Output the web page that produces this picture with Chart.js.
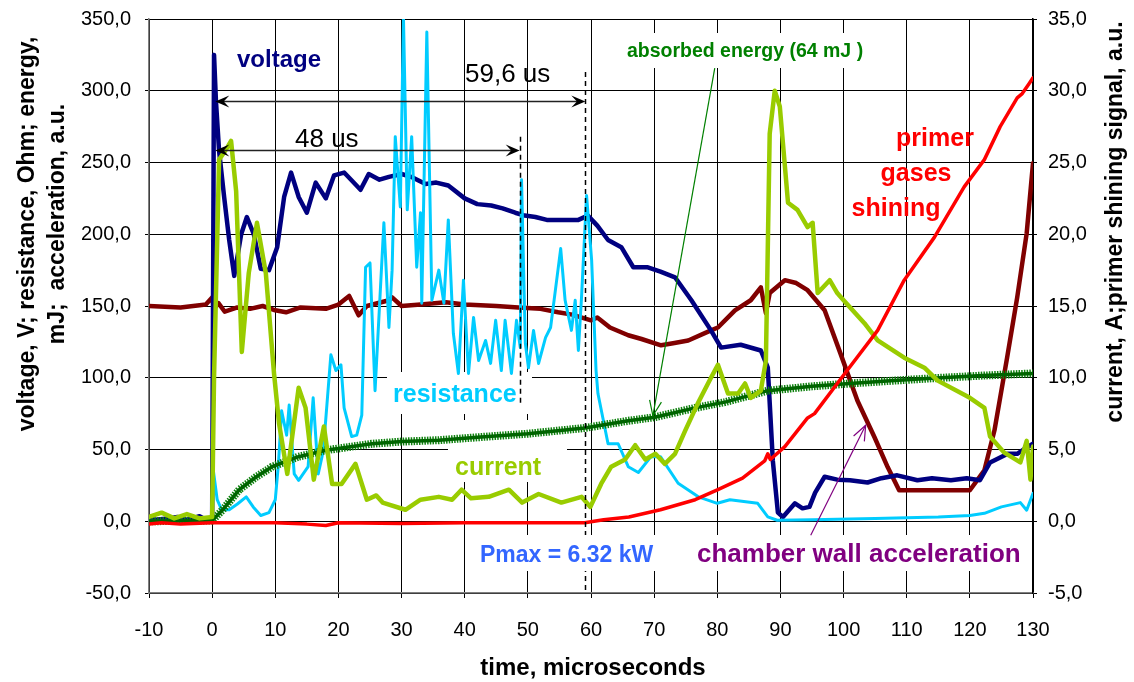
<!DOCTYPE html>
<html>
<head>
<meta charset="utf-8">
<script src="https://cdn.jsdelivr.net/npm/chart.js@4.4.1/dist/chart.umd.min.js"></script>
<style>
  html, body { margin: 0; padding: 0; background: #fff; }
  #wrap { width: 1134px; height: 682px; position: relative; }
</style>
</head>
<body>
<div id="wrap"><canvas id="c"></canvas></div>
<script>
// Axis ranges
const timeTicks = { min: -10, max: 130, step: 10 };
const leftTicks = { min: -50, max: 350, step: 50 };
const rightTicks = { min: -5, max: 35, step: 5 };

// [time µs, value] pairs
const voltage = [[-10,2],[-9,1],[-7,2],[-5.5,3],[-4,1],[-2,3.5],[-1,1],[0,1],[0.3,325],[0.6,293],[1.1,258],[1.9,226],[2.7,196],[3.5,171],[4.6,200],[5.5,212],[6.6,200],[7.7,176],[9,175],[10.3,191],[11.4,226],[12.5,243],[13.7,226],[15,215],[16.4,236],[18,225],[19.3,241],[20.9,243],[22,238],[23.5,231],[24.8,242],[26.5,238],[28,240],[30,242],[31.5,240],[33.8,235],[35.5,236],[37.4,234],[40,225],[42,221],[44.2,220],[46,218],[48,215],[49.5,213],[51.2,212],[53,210],[56,210],[58,210],[59.5,213],[61,206],[62.7,196],[64.8,191],[66.7,177],[69,177],[71,174],[73.3,170],[75.9,154],[79,133],[80.6,121],[83.7,123],[86.9,119],[88,107],[88.8,42],[89.6,6],[90.4,3],[92.3,12.5],[93.5,9],[94.6,10],[95.5,20],[97,31],[99,29],[101,28.6],[103.8,27],[106,30],[108.5,32],[111.7,28.6],[114,30],[117,28.6],[119.5,30],[121.6,28.6],[123.2,41],[126,47],[127.5,47],[128.5,50],[130,54]];

const resistance = [[-10,0],[0,0],[0.2,35],[0.8,15],[1.5,8],[2.7,8],[4,12],[5.4,17],[6.5,10],[7.7,4],[9,6],[10,15],[10.5,40],[11,77],[11.8,60],[12.2,81],[13,33],[13.7,28.5],[15.2,38],[16,86],[16.8,33],[17.6,49],[18.8,116],[19.6,105],[20.4,109],[20.9,79],[22.1,59],[22.9,60],[23.7,74],[24.3,177],[25,180],[25.8,91],[27.2,208],[28,135],[28.5,175],[29,268],[29.8,219],[30.3,351],[30.9,217],[31.6,268],[32.4,177],[33,215],[33.2,152],[34,341],[34.8,154],[35.9,175],[36.7,152],[37.4,210],[38.2,131],[39,103],[39.8,168],[40.6,103],[41.4,142],[42.2,112],[43.3,126],[44.1,110],[44.9,140],[45.8,105],[46.4,140],[47.4,103],[48.2,140],[48.8,121],[49,238],[49.6,124],[50.1,107],[50.9,133],[51.7,110],[52.8,128],[53.6,135],[54.3,159],[55.2,190],[55.9,154],[56.9,133],[57.5,154],[58,119],[58.5,156],[59.3,227],[60.1,182],[60.8,105],[61.1,89],[62.7,54],[64.3,54],[65.9,38],[67.5,34],[69.5,45],[71,45],[73.8,26.5],[77,17],[80,12.5],[82,15],[86.4,12.5],[88,3],[89.5,0.7],[95,1],[105,2],[115,3],[120,4],[122.3,5.5],[125,10],[128,13],[129,7.7],[130,19.5]];

const current = [[-10,0.3],[-8,0.6],[-6,0.2],[-4,0.5],[-2,0.2],[0,0.3],[0.3,10],[1.1,25.2],[2.2,25.9],[3,26.5],[3.8,23],[4.7,11.8],[5.8,17.3],[7.1,20.8],[8.5,17.3],[9.8,10.3],[10.6,6.8],[11.9,3.3],[13.7,9.3],[14.8,7.9],[16.1,2.9],[17.7,6.6],[19,2.6],[20.5,2.6],[22.7,4.0],[24.5,1.5],[26,1.8],[27,1.3],[30.6,0.8],[33,1.5],[35.9,1.7],[38,1.5],[39.5,2.2],[41,1.6],[43.8,1.7],[47,2.2],[49.1,1.3],[51.7,1.9],[55.3,1.3],[58.5,1.7],[59.9,1.0],[61.6,2.6],[63.2,3.8],[65.4,4.3],[67,5.3],[68.6,4.3],[70.2,4.7],[71.7,4.0],[73.3,4.7],[74.9,6.3],[76.9,8.2],[79,10.0],[80.1,10.9],[81.7,8.9],[83.3,8.9],[84.4,9.6],[85.3,8.6],[86.9,9.1],[87.7,11.2],[88.3,27],[89.1,30],[89.9,28.9],[91.2,22.2],[92.7,21.7],[94.3,20.5],[95.1,20.8],[95.9,15.9],[97.8,16.8],[99,15.9],[100,15.4],[103.3,13.8],[105.4,12.6],[109.6,11.4],[112.8,10.7],[114.9,9.8],[120,8.6],[122.3,7.9],[123.2,5.9],[125.4,4.8],[128,4.1],[129,5.6],[129.6,2.9],[130,5.2]];

const energy = [[-10,0],[0,0.5],[1.6,7.6],[4.3,22],[7,31],[9.5,38],[13.7,45],[18,49.5],[25.3,54],[30,55.5],[35.9,56.5],[42,58.5],[50,61],[59,65],[65.9,70],[70.1,72.5],[76.5,79],[81.2,83],[88,91],[95,94],[101,96],[108,98],[114,99.6],[122,101.5],[130,103]];

const primerShining = [[-10,-0.2],[-8,-0.1],[-5,-0.2],[0,-0.1],[5,-0.1],[10,-0.1],[15,-0.2],[18,-0.3],[20,-0.1],[30,-0.15],[40,-0.1],[50,-0.1],[59,-0.1],[62,0.1],[66,0.3],[71,0.8],[76.5,1.5],[80.1,2.2],[84,3.0],[87.5,4.2],[88,4.7],[88.4,4.3],[90.7,5.2],[94.3,7.2],[95.4,7.5],[100.2,10.3],[105.4,13.3],[109.6,16.8],[114.4,19.8],[119.1,23.3],[122.3,25.2],[124.8,27.5],[127.5,29.5],[128.3,29.8],[129.4,30.5],[130,30.9]];

const wallAcceleration = [[-10,150],[-5,149],[-1,151],[0,156],[0.3,148],[1,152],[2,146],[4,149],[6,148],[8,150],[10,147],[11.7,145.6],[14,149],[18,148],[20,151],[21.7,157],[23.2,143.5],[24.5,150],[28,154],[28.5,156],[30,150],[33,151],[37,152.6],[40,151],[45,150],[48.5,149],[52,148],[54.8,145.6],[57,144],[60,140],[61,142],[63,135],[65.9,129.6],[68,127],[71.1,122.6],[73,124],[75.4,126],[79,133],[80.1,135],[82.8,147],[85.3,154],[86.9,163],[87.7,145],[88.3,159],[90.7,168],[92.5,166],[94.3,161],[97,147],[99.5,117],[102.2,84],[104.9,58.5],[107,37.6],[108.8,21.6],[112,21.6],[116,21.6],[120,21.6],[122.3,35.5],[123.9,63.4],[125.9,114],[127.5,156],[129,200.7],[130,249.5]];

// Annotation values (time µs / left-axis units)
const pulseStart = 0.5;
const span48End = 48.7;
const span596End = 59.1;
const span48Level = 259;
const span596Level = 293;

const FONT = "'Liberation Sans', Arial, Helvetica, sans-serif";
const pts = arr => arr.map(p => ({ x: p[0], y: p[1] }));
const comma = v => v.toFixed(1).replace('.', ',');

function arrowHead(ctx, x, y, ang, len, half, filled) {
  const bx = x - len * Math.cos(ang), by = y - len * Math.sin(ang);
  const nx = -Math.sin(ang), ny = Math.cos(ang);
  ctx.beginPath();
  if (filled) {
    const mx = x - len * 0.6 * Math.cos(ang), my = y - len * 0.6 * Math.sin(ang);
    ctx.moveTo(x, y);
    ctx.lineTo(bx + nx * half, by + ny * half);
    ctx.lineTo(mx, my);
    ctx.lineTo(bx - nx * half, by - ny * half);
    ctx.closePath();
    ctx.fill();
  } else {
    ctx.moveTo(bx + nx * half, by + ny * half);
    ctx.lineTo(x, y);
    ctx.lineTo(bx - nx * half, by - ny * half);
    ctx.stroke();
  }
}

const overlay = {
  id: 'overlay',
  beforeDatasetsDraw(chart) {
    const ctx = chart.ctx;
    ctx.save();
    ctx.fillStyle = '#fff';
    // label backgrounds
    ctx.fillRect(618, 33, 254, 35);
    ctx.fillRect(387, 372, 145, 42);
    ctx.fillRect(448, 420, 119, 62);
    ctx.fillRect(690, 535, 338, 36);
    ctx.restore();
  },
  afterDatasetsDraw(chart) {
    const ctx = chart.ctx;
    const sx = chart.scales.x, sy = chart.scales.y;
    const X = v => sx.getPixelForValue(v), Y = v => sy.getPixelForValue(v);
    ctx.save();

    // dashed markers at pulse ends
    ctx.strokeStyle = '#000';
    ctx.lineWidth = 1.5;
    ctx.setLineDash([5, 4]);
    ctx.beginPath();
    ctx.moveTo(Math.round(X(span48End)) + 0.5, Y(268));
    ctx.lineTo(Math.round(X(span48End)) + 0.5, Y(80));
    ctx.moveTo(Math.round(X(span596End)) + 0.5, Y(313));
    ctx.lineTo(Math.round(X(span596End)) + 0.5, Y(-50));
    ctx.stroke();
    ctx.setLineDash([]);

    // power label box sits over the dashed marker
    ctx.fillStyle = '#fff';
    ctx.fillRect(474, 535, 188, 36);

    // duration arrows
    ctx.strokeStyle = '#222';
    ctx.fillStyle = '#000';
    ctx.lineWidth = 1.6;
    [[span596End, span596Level], [span48End, span48Level]].forEach(([end, lvl]) => {
      const y = Math.round(Y(lvl)) + 0.5;
      const x0 = X(pulseStart), x1 = X(end);
      ctx.beginPath();
      ctx.moveTo(x0 + 4, y); ctx.lineTo(x1 - 4, y); ctx.stroke();
      arrowHead(ctx, x0, y, Math.PI, 14, 6, true);
      arrowHead(ctx, x1, y, 0, 14, 6, true);
    });

    // pointer to energy curve
    ctx.strokeStyle = '#008000';
    ctx.lineWidth = 1.2;
    let ax0 = X(79.6), ay0 = Y(315.7), ax1 = X(69.8), ay1 = Y(73.5);
    ctx.beginPath(); ctx.moveTo(ax0, ay0); ctx.lineTo(ax1, ay1); ctx.stroke();
    arrowHead(ctx, ax1, ay1, Math.atan2(ay1 - ay0, ax1 - ax0), 15, 6, false);

    // pointer to acceleration curve
    ctx.strokeStyle = '#800080';
    ax0 = X(94.8); ay0 = Y(-9.8); ax1 = X(103.5); ay1 = Y(66.9);
    ctx.beginPath(); ctx.moveTo(ax0, ay0); ctx.lineTo(ax1, ay1); ctx.stroke();
    arrowHead(ctx, ax1, ay1, Math.atan2(ay1 - ay0, ax1 - ax0), 15, 6, false);

    // labels
    ctx.textBaseline = 'alphabetic';
    ctx.textAlign = 'left';
    ctx.fillStyle = '#000080';
    ctx.font = 'bold 24px ' + FONT;
    ctx.fillText('voltage', 237, 67);

    ctx.fillStyle = '#000';
    ctx.font = '26px ' + FONT;
    ctx.fillText('59,6 us', 465, 82);
    ctx.fillText('48 us', 295, 147);

    ctx.fillStyle = '#008000';
    ctx.font = 'bold 19.5px ' + FONT;
    ctx.textAlign = 'center';
    ctx.fillText('absorbed energy (64 mJ )', 745, 57);

    ctx.fillStyle = '#FF0000';
    ctx.font = 'bold 25px ' + FONT;
    ctx.fillText('primer', 935, 146);
    ctx.fillText('gases', 916, 181);
    ctx.fillText('shining', 896, 216);

    ctx.textAlign = 'left';
    ctx.fillStyle = '#00CCFF';
    ctx.font = 'bold 25px ' + FONT;
    ctx.fillText('resistance', 393, 402);

    ctx.fillStyle = '#99CC00';
    ctx.fillText('current', 455, 475);

    ctx.fillStyle = '#3366FF';
    ctx.font = 'bold 23px ' + FONT;
    ctx.fillText('Pmax = 6.32 kW', 480, 562);

    ctx.fillStyle = '#800080';
    ctx.font = 'bold 26px ' + FONT;
    ctx.fillText('chamber wall acceleration', 697, 562);
    ctx.restore();
  },
  afterDraw(chart) {
    const ctx = chart.ctx;
    ctx.save();
    ctx.fillStyle = '#000';
    ctx.font = 'bold 23px ' + FONT;
    ctx.textAlign = 'center';
    ctx.textBaseline = 'alphabetic';
    // left axis title (two lines)
    ctx.save();
    ctx.translate(34, 234); ctx.rotate(-Math.PI / 2);
    ctx.fillText('voltage, V; resistance, Ohm; energy,', 0, 0);
    ctx.restore();
    ctx.save();
    ctx.translate(64, 224); ctx.rotate(-Math.PI / 2);
    ctx.fillText('mJ;  acceleration, a.u.', 0, 0);
    ctx.restore();
    // right axis title
    ctx.save();
    ctx.translate(1122, 222); ctx.rotate(-Math.PI / 2);
    ctx.fillText('current, A;primer shining signal, a.u.', 0, 0);
    ctx.restore();
    // time axis title
    ctx.font = 'bold 24px ' + FONT;
    ctx.fillText('time, microseconds', 593, 675);
    ctx.restore();
  }
};

const lineSet = (label, data, color, width, axis, order, extra) => Object.assign({
  label, data: pts(data), borderColor: color, backgroundColor: color,
  borderWidth: width, pointRadius: 0, tension: 0, yAxisID: axis, order,
  borderJoinStyle: 'round', borderCapStyle: 'round'
}, extra || {});

// pin the plot rectangle: no extra room reserved for overhanging tick labels
const noPad = s => { s.paddingTop = 0; s.paddingBottom = 0; s.paddingLeft = 0; s.paddingRight = 0; };

new Chart(document.getElementById('c'), {
  type: 'line',
  data: {
    datasets: [
      lineSet('chamber wall acceleration', wallAcceleration, '#800000', 4.5, 'y', 7),
      lineSet('voltage', voltage, '#000080', 4.5, 'y', 6),
      lineSet('resistance', resistance, '#00CCFF', 3, 'y', 5),
      lineSet('absorbed energy', energy, '#0F820F', 8, 'y', 4, { borderDash: [1.5, 1.2], borderCapStyle: 'butt' }),
      lineSet('absorbed energy core', energy, '#006400', 3.5, 'y', 3),
      lineSet('current', current, '#99CC00', 4.5, 'y2', 2),
      lineSet('primer gases shining', primerShining, '#FF0000', 3.5, 'y2', 1)
    ]
  },
  options: {
    responsive: true,
    maintainAspectRatio: false,
    animation: false,
    devicePixelRatio: 1,
    layout: { padding: { top: 19, left: 0, right: 0, bottom: 0 } },
    plugins: { legend: { display: false }, tooltip: { enabled: false } },
    scales: {
      x: {
        type: 'linear', min: timeTicks.min, max: timeTicks.max,
        ticks: { stepSize: timeTicks.step, color: '#000', padding: 20,
                 font: { family: FONT, size: 20 }, callback: v => String(v), maxRotation: 0 },
        grid: { color: '#000', lineWidth: 1, tickLength: 5 },
        border: { color: '#7f7f7f', width: 1.5 },
        afterFit: s => { s.height = 89; noPad(s); }
      },
      y: {
        position: 'left', min: leftTicks.min, max: leftTicks.max,
        ticks: { stepSize: leftTicks.step, color: '#000', padding: 14,
                 font: { family: FONT, size: 20 }, callback: comma },
        grid: { color: '#000', lineWidth: 1, tickLength: 4 },
        border: { color: '#7f7f7f', width: 1.5 },
        afterFit: s => { s.width = 149; noPad(s); }
      },
      y2: {
        position: 'right', min: rightTicks.min, max: rightTicks.max,
        ticks: { stepSize: rightTicks.step, color: '#000', padding: 11,
                 font: { family: FONT, size: 20 }, callback: comma },
        grid: { drawOnChartArea: false, color: '#000', tickLength: 4 },
        border: { color: '#000', width: 1.5 },
        afterFit: s => { s.width = 101; noPad(s); }
      }
    }
  },
  plugins: [overlay]
});
</script>
</body>
</html>
